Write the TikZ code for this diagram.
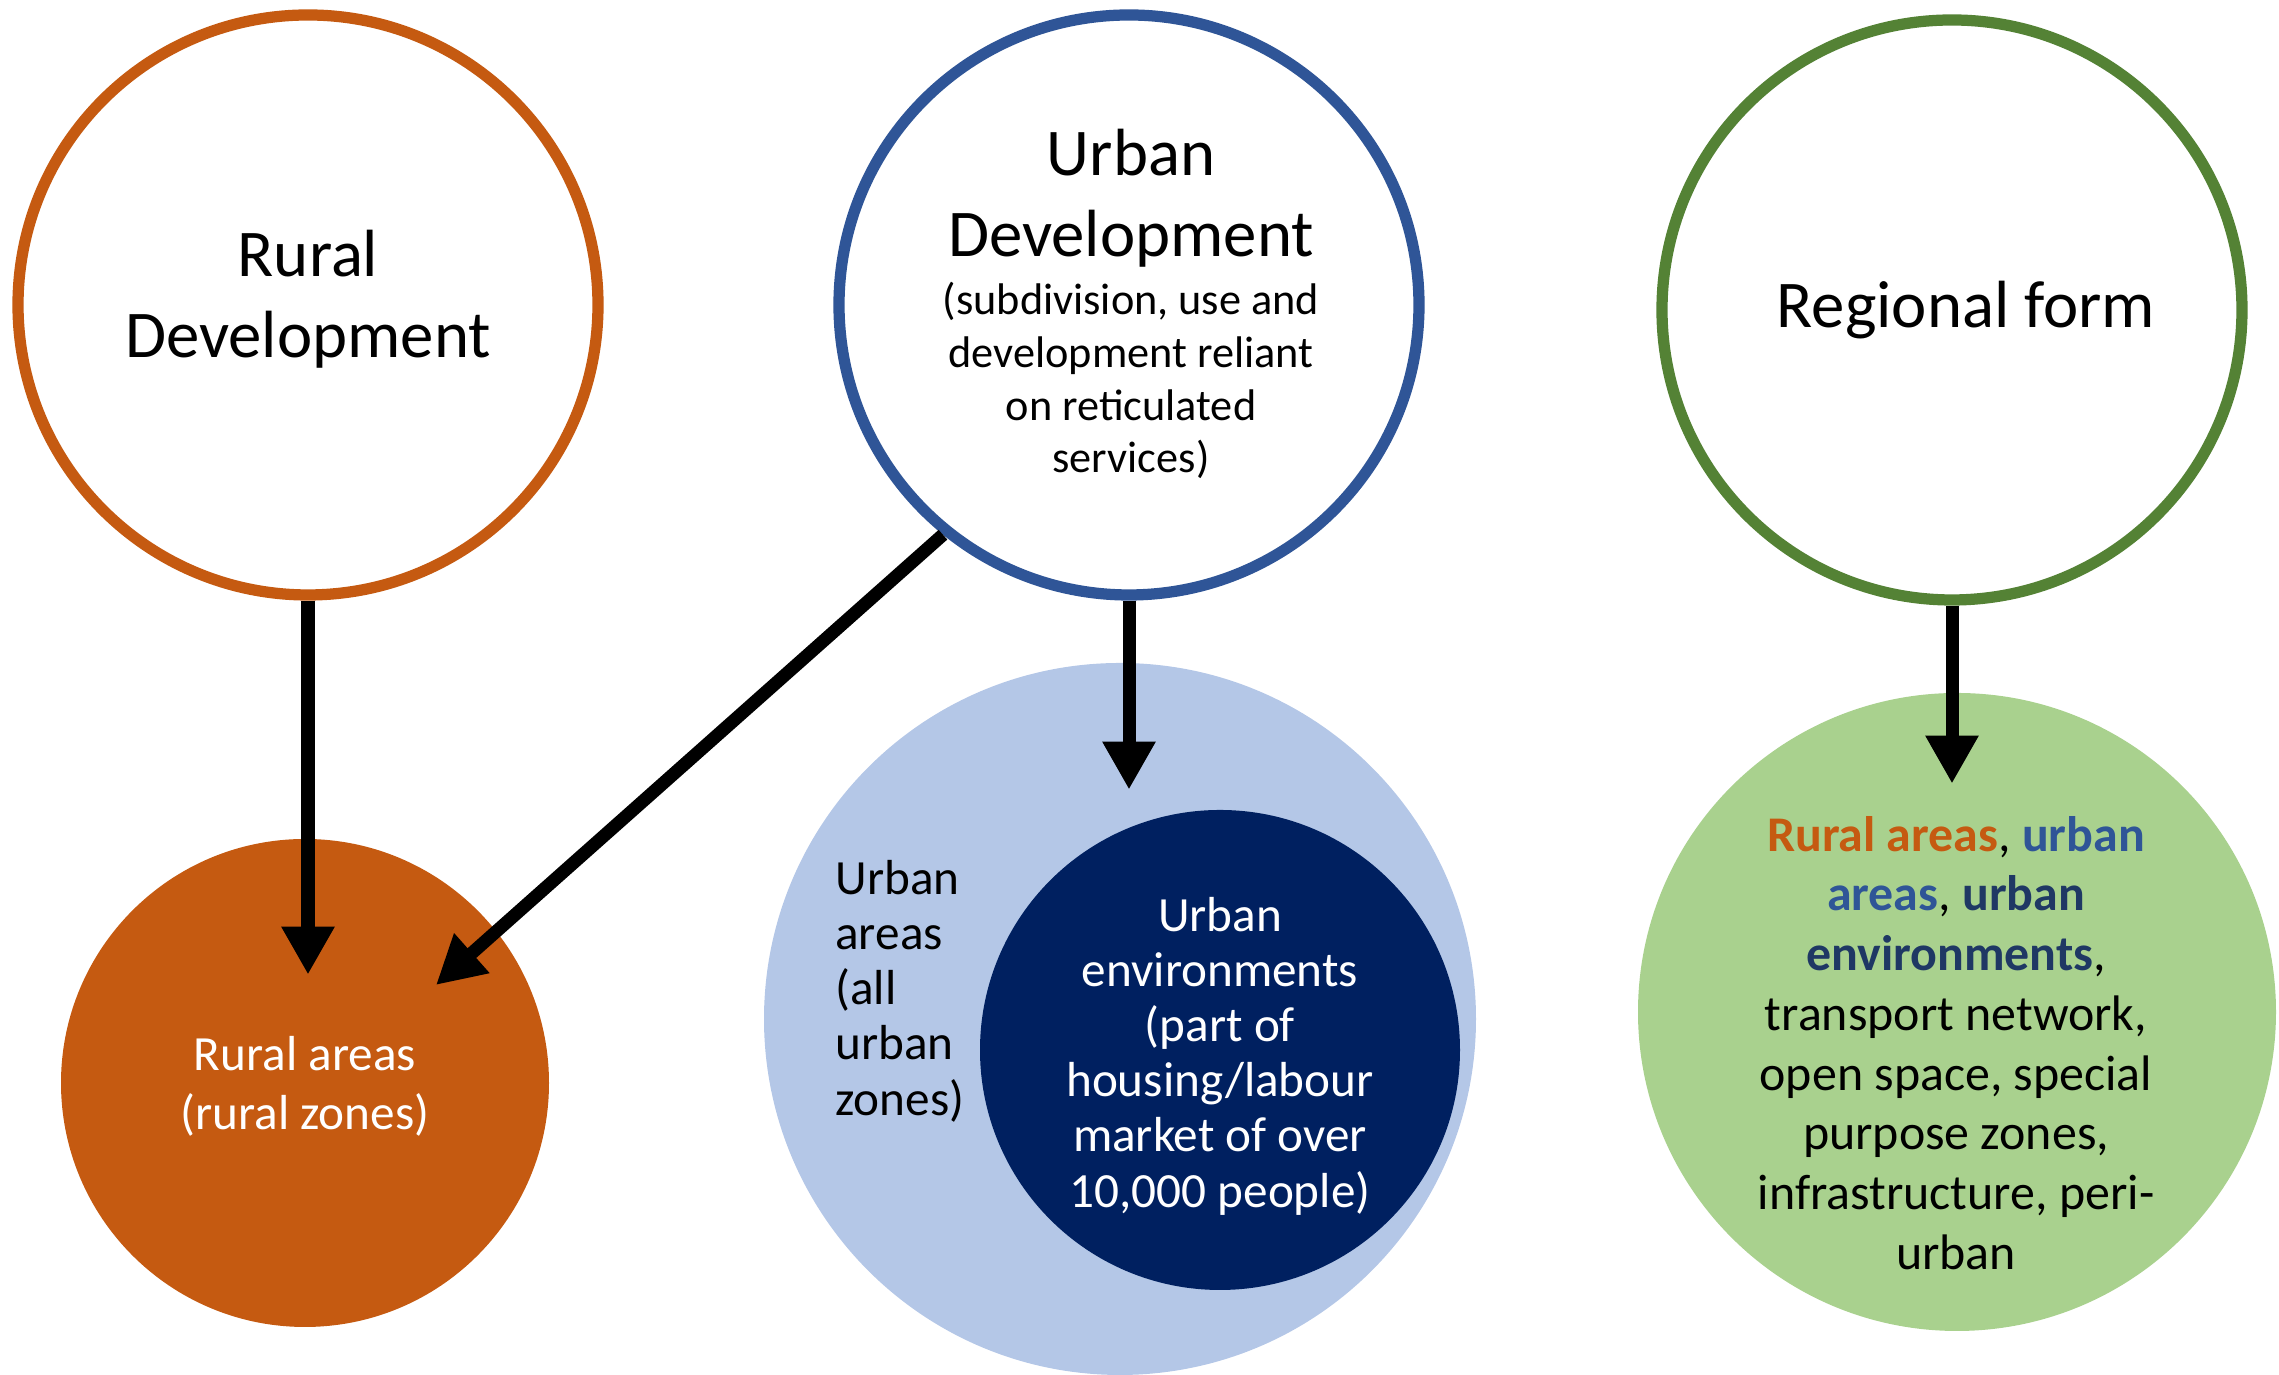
\documentclass[tikz,border=0pt]{standalone}
\usepackage{fontspec}
\setmainfont{Carlito}
\usepackage{xcolor}
\usetikzlibrary{positioning}
\usetikzlibrary{calc,arrows.meta}
\definecolor{ruralorange}{HTML}{C55A11}
\definecolor{urbanblue}{HTML}{2F5597}
\definecolor{regiongreen}{HTML}{548235}
\definecolor{areablue}{HTML}{B4C7E7}
\definecolor{envnavy}{HTML}{002060}
\definecolor{envtext}{HTML}{1F3864}
\definecolor{regionfill}{HTML}{A9D18E}

\begin{document}
\begin{tikzpicture}
	\tikzset{
  		ring/.style= {shape=circle, draw, line width=3.2pt, fill=white, minimum size=5.8cm, inner sep=0pt},
  		disc/.style= {shape=circle, inner sep=0pt},
  		link/.style= {line width=3.7pt, -{Triangle[width=0.5cm,length=0.48cm]}},
  		big text/.style= {align=center, font=\fontsize{19}{23}\selectfont},
  		small text/.style= {align=center, font=\fontsize{12.6}{15}\selectfont},
  		area text/.style= {font=\fontsize{14}{15.7}\selectfont}
		}
		\useasboundingbox (0,0) rectangle (22.79,13.75);

		% top row
		\path 	(3.08,10.70) node [name=ruraldev, ring, draw=ruralorange] {}
		 		(11.29,10.70) node [name=urbandev, ring, draw=urbanblue] {}
		 		(19.52,10.65) node [name=regional, ring, draw=regiongreen] {};

		\node [name=ruraltitle, big text] at (3.08,10.76) {Rural\\Development};
		\node [name=urbantitle, big text, anchor=north] at (11.31,12.58) {Urban\\Development};
		\node [name=urbannote, small text, below=-2.8pt of urbantitle] {(subdivision, use and\\development reliant\\on reticulated\\services)};
		\node [name=regiontitle, big text] at (19.66,10.65) {Regional form};

		% bottom row
		\path 	(3.05,2.92) node [name=ruralareas, disc, fill=ruralorange, minimum size=4.88cm] {}
		 		(11.20,3.56) node [name=urbanareas, disc, fill=areablue, minimum size=7.12cm] {}
		 		(12.20,3.25) node [name=urbanenv, disc, fill=envnavy, minimum size=4.8cm] {}
		 		(19.57,3.63) node [name=regionareas, disc, fill=regionfill, minimum size=6.38cm] {};

		\node [name=ruralareastext, align=center, text=white, font=\fontsize{14}{16.8}\selectfont] at (3.05,2.89) {Rural areas\\(rural zones)};
		\node [name=urbanareastext, area text, align=left, anchor=west] at (8.23,3.84) {Urban\\areas\\(all\\urban\\zones)};
		\node [name=urbanenvtext, area text, align=center, text=white] at (12.20,3.19) {Urban\\environments\\(part of\\housing/labour\\market of over\\10,000 people)};
		\node [name=regionareastext, align=center, font=\fontsize{14.2}{17}\selectfont] at (19.56,3.32)
			{\textbf{\textcolor{ruralorange}{Rural areas}}, \textbf{\textcolor{urbanblue}{urban}}\\
			 \textbf{\textcolor{urbanblue}{areas}}, \textbf{\textcolor{envtext}{urban}}\\
			 \textbf{\textcolor{envtext}{environments}},\\
			 transport network,\\open space, special\\purpose zones,\\infrastructure, peri-\\urban};

		% arrows
		\draw [link] (ruraldev.south) -- ($(ruraldev.south)+(0,-3.74)$);
		\draw [link] (urbandev.231) -- ($(ruralareas.center)+(1.31,0.98)$);
		\draw [link] (urbandev.south) -- ($(urbandev.south)+(0,-1.89)$);
		\draw [link] (regional.south) -- ($(regional.south)+(0,-1.78)$);

	\end{tikzpicture}
\end{document}
